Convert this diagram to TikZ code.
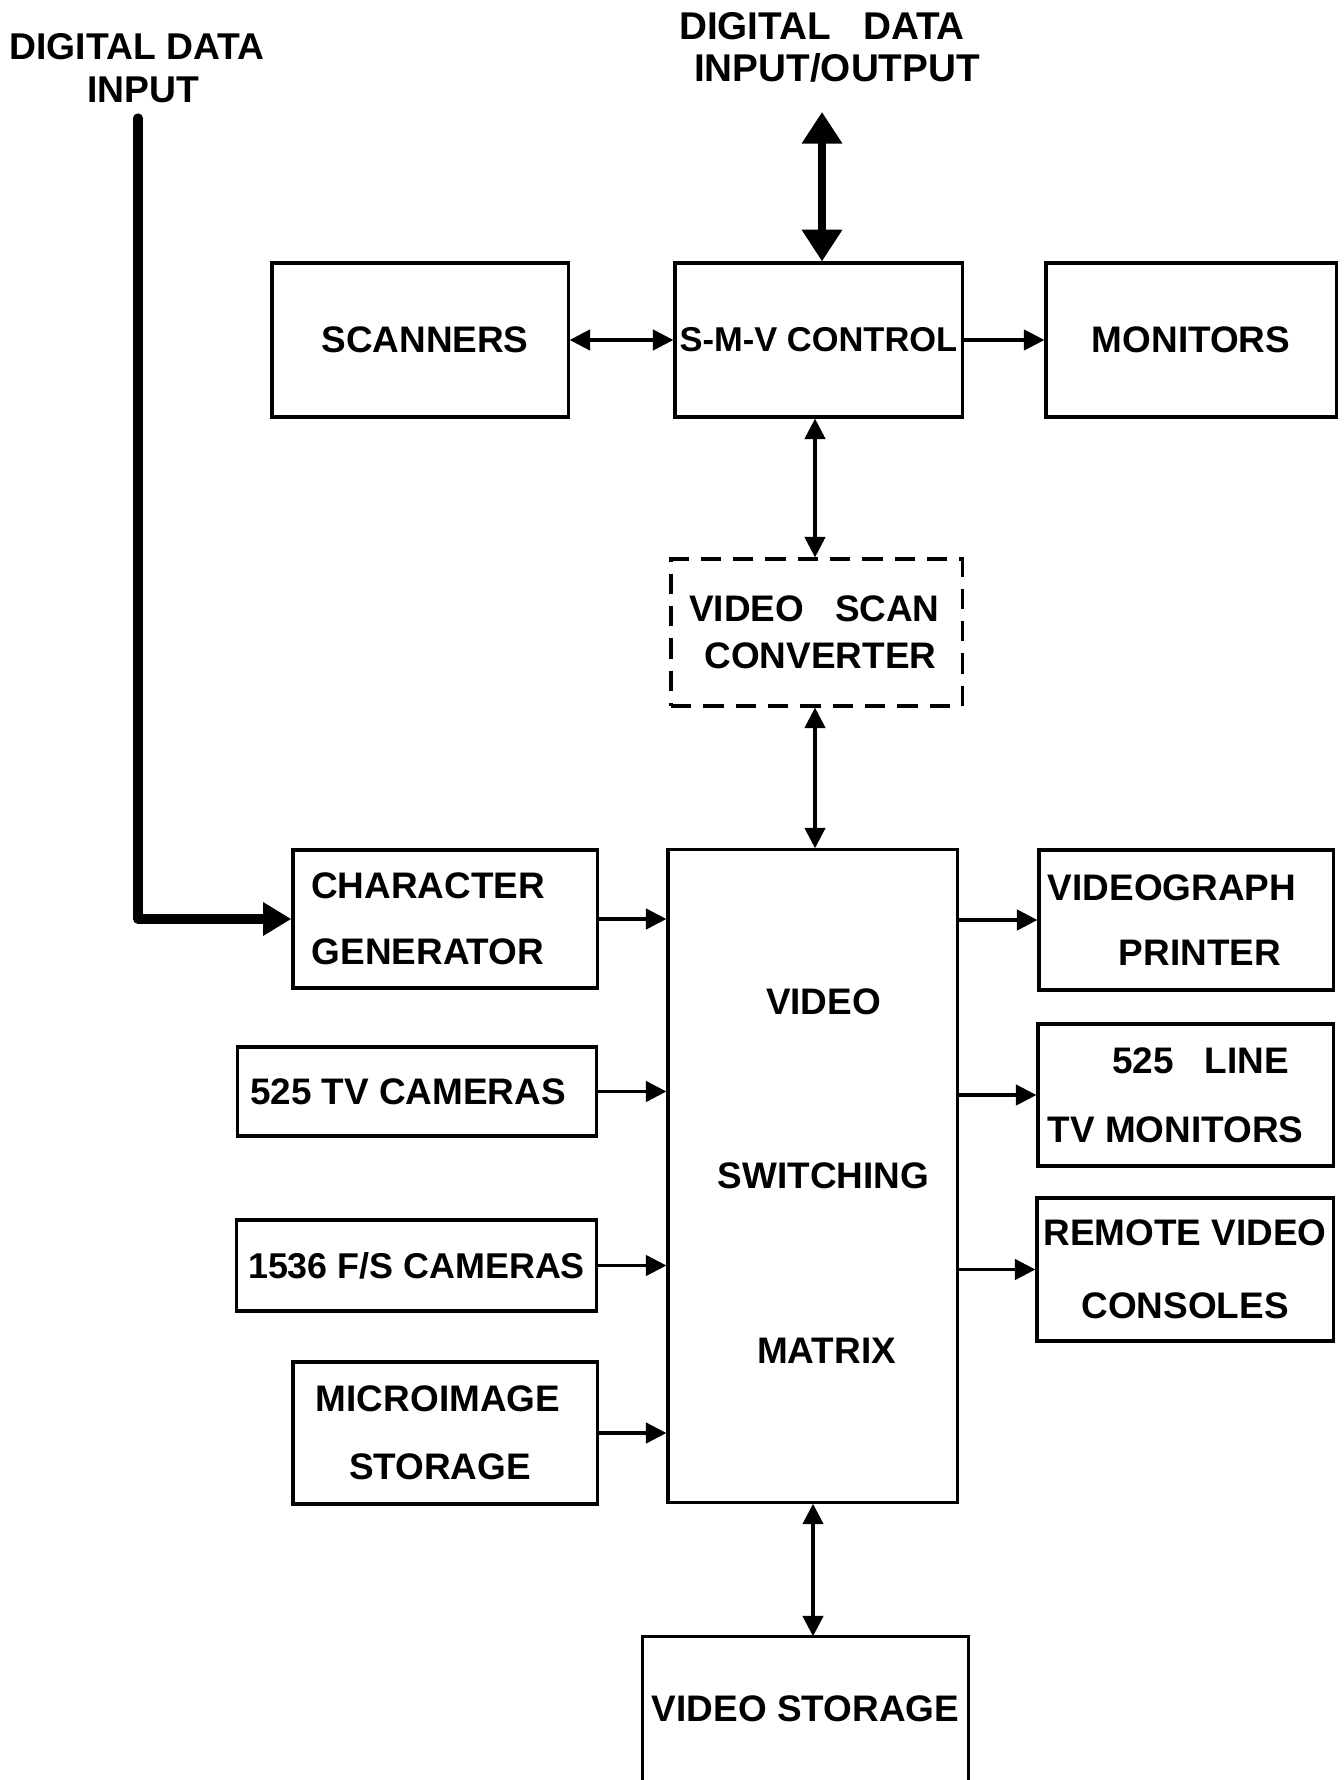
\documentclass[tikz,border=0pt]{standalone}
\usepackage{fontspec}
\setmainfont{Liberation Sans}
\usetikzlibrary{arrows.meta,calc}
\begin{document}
\begin{tikzpicture}[x=0.01cm,y=-0.01cm,
  every node/.style={font=\bfseries\fontsize{10.5}{12.2}\selectfont, align=center, inner sep=0pt},
  biglabel/.style={font=\bfseries\fontsize{11}{12}\selectfont},
  box/.style={draw, line width=0.9pt},
  dbox/.style={draw, line width=0.9pt, dash pattern=on 5.8pt off 3.4pt},
  conn/.style={line width=0.9pt, -{Triangle[length=5.8pt,width=5.8pt]}},
  bconn/.style={line width=0.9pt, {Triangle[length=5.8pt,width=5.8pt]}-{Triangle[length=5.8pt,width=5.8pt]}},
  heavy/.style={line width=2.6pt, line join=round, line cap=round, -{Triangle[length=8pt,width=9pt]}},
  bheavy/.style={line width=2.2pt, {Triangle[length=9pt,width=11pt]}-{Triangle[length=9pt,width=11pt]}}
]
\useasboundingbox (0,0) rectangle (1343,1780);

% labels
\node[font=\bfseries\fontsize{10.6}{12.2}\selectfont] (lin) at (137,68) {DIGITAL DATA\\\hspace*{0.12cm}INPUT};
\node[biglabel] (lio) at (822,47) {DIGITAL\ \ \ DATA\\\hspace*{0.3cm}INPUT/OUTPUT};

% top row
\node[box, minimum width=2.96cm, minimum height=1.54cm] (sc) at (420,340) {\hspace*{0.1cm}SCANNERS};
\node[box, minimum width=2.87cm, minimum height=1.54cm, font=\bfseries\fontsize{9.8}{12}\selectfont] (smv) at (818.5,340) {S-M-V CONTROL};
\node[box, minimum width=2.90cm, minimum height=1.54cm] (mon) at (1191,340) {MONITORS};

% scan converter
\node[dbox, minimum width=2.91cm, minimum height=1.47cm] (vsc) at (816.5,632.5) {VIDEO\ \ \ SCAN\hspace*{0.04cm}\\[1pt]\hspace*{0.08cm}CONVERTER};

% matrix
\node[box, minimum width=2.89cm, minimum height=6.52cm] (mx) at (812.5,1176) {\hspace*{0.22cm}VIDEO\\[37.5pt]\hspace*{0.22cm}SWITCHING\\[37.5pt]\hspace*{0.28cm}MATRIX};

% left column
\node[box, minimum width=3.04cm, minimum height=1.38cm] (cg) at (445,919) {CHARACTER\hspace*{0.34cm}\\[6.5pt]GENERATOR\hspace*{0.34cm}};
\node[box, minimum width=3.58cm, minimum height=0.89cm] (tvc) at (417,1091.5) {525 TV CAMERAS\hspace*{0.18cm}};
\node[box, minimum width=3.59cm, minimum height=0.91cm, font=\bfseries\fontsize{10.2}{12}\selectfont] (fsc) at (416.5,1265.5) {1536 F/S CAMERAS};
\node[box, minimum width=3.04cm, minimum height=1.42cm] (mis) at (445,1433) {MICROIMAGE\hspace*{0.14cm}\\[7pt]STORAGE\hspace*{0.1cm}};

% right column
\node[box, minimum width=2.94cm, minimum height=1.40cm] (vg) at (1186,920) {VIDEOGRAPH\hspace*{0.28cm}\\[6.5pt]\hspace*{0.28cm}PRINTER};
\node[box, minimum width=2.95cm, minimum height=1.42cm] (tvm) at (1185.5,1095) {\hspace*{0.3cm}525\ \ \ LINE\\[7.4pt]TV\ MONITORS\hspace*{0.2cm}};
\node[box, minimum width=2.96cm, minimum height=1.43cm] (rvc) at (1185,1269.5) {REMOTE VIDEO\\[8.5pt]CONSOLES};

% video storage (bottom cut off)
\node[minimum width=3.25cm, minimum height=1.43cm] (vs) at (805.5,1708.5) {VIDEO STORAGE};
\draw[line width=0.9pt] (vs.south west) -- (vs.north west) -- (vs.north east) -- (vs.south east);

% thick connectors
\coordinate (din) at (138,118);
\draw[heavy] (din) |- (cg.west);
\coordinate (dio) at (822,112);
\draw[bheavy] (dio) -- (dio |- smv.north);

% thin connectors
\draw[bconn] (sc.east) -- (smv.west);
\draw[conn] (smv.east) -- (mon.west);
\draw[bconn] (smv.south -| 815,0) -- (vsc.north -| 815,0);
\draw[bconn] (vsc.south -| 815,0) -- (mx.north -| 815,0);
\draw[bconn] (mx.south -| 813,0) -- (vs.north -| 813,0);

\draw[conn] (cg.east) -- (cg.east -| mx.west);
\draw[conn] (tvc.east) -- (tvc.east -| mx.west);
\draw[conn] (fsc.east) -- (fsc.east -| mx.west);
\draw[conn] (mis.east) -- (mis.east -| mx.west);

\draw[conn] (mx.east |- vg.west) -- (vg.west);
\draw[conn] (mx.east |- tvm.west) -- (tvm.west);
\draw[conn] (mx.east |- rvc.west) -- (rvc.west);
\end{tikzpicture}
\end{document}
